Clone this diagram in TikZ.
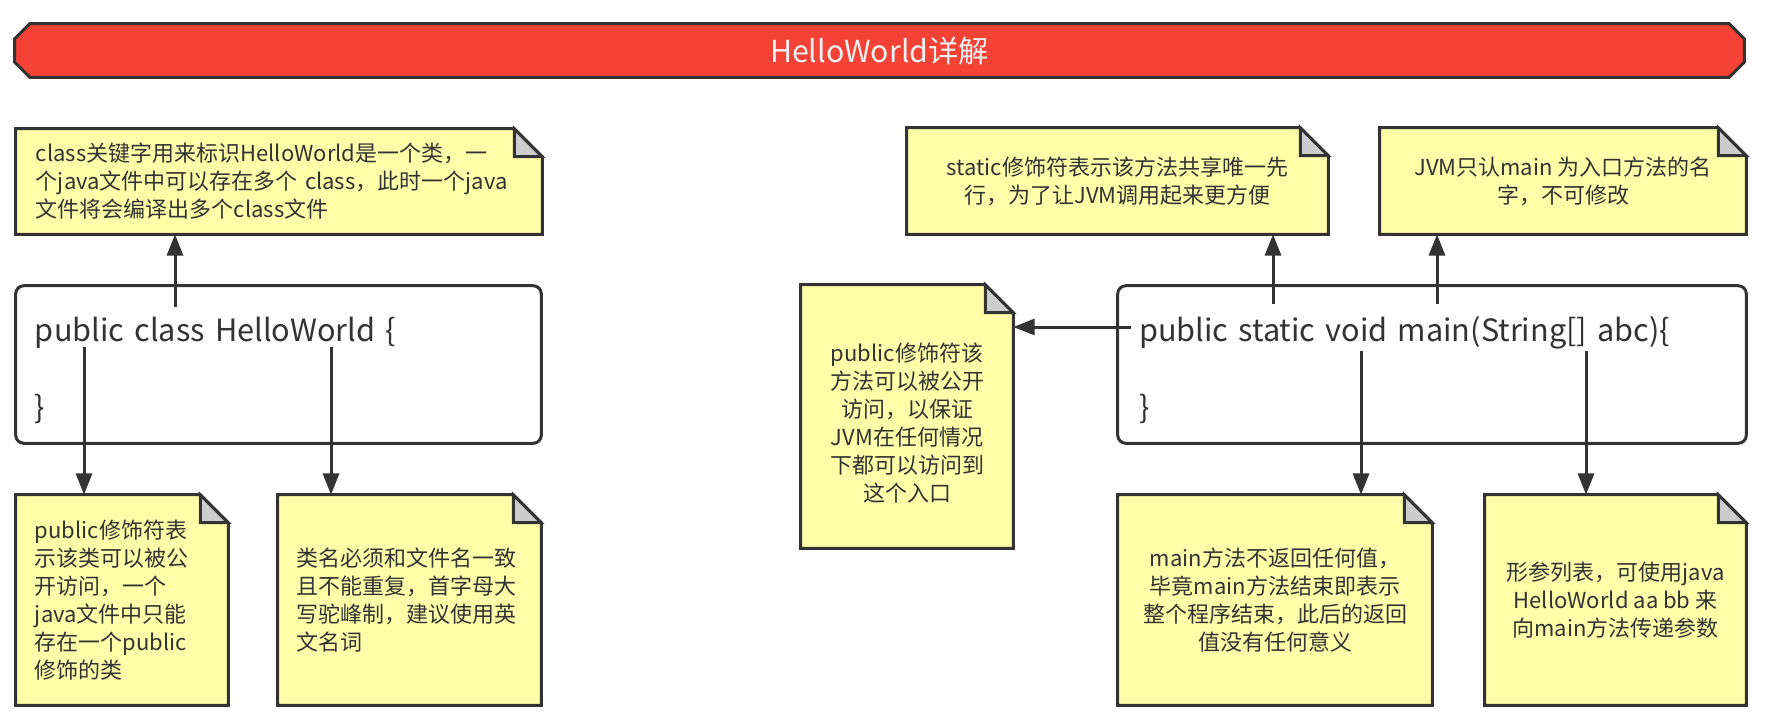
\documentclass[tikz,border=0pt]{standalone}
\usepackage{fontspec}
\setmainfont{Noto Sans CJK SC}
\usetikzlibrary{arrows.meta,backgrounds}
\definecolor{ink}{HTML}{333333}
\definecolor{notey}{HTML}{FFFFAA}
\definecolor{foldg}{HTML}{CCCCCC}
\definecolor{hred}{HTML}{F44336}
\definecolor{htext}{HTML}{F0F0F0}
\newcommand\notetxt{\fontsize{16.5pt}{21pt}\selectfont}
\newcommand\codetxt{\fontsize{23pt}{28.9pt}\selectfont}
\newcommand\hdrtxt{\fontsize{22.7pt}{26pt}\selectfont}
\begin{document}
\begin{tikzpicture}[x=0.75pt,y=-0.75pt,
  every node/.style={text=ink, inner sep=0pt},
  cnote/.style 2 args={minimum width=#1, minimum height=#2, align=center, font=\notetxt},
  lnote/.style n args={4}{minimum width=#1, minimum height=#2, inner xsep=#3, text width=#4, align=left, font=\notetxt},
  codebox/.style n args={4}{minimum width=#1, minimum height=#2, inner xsep=#3, text width=#4, align=left, font=\codetxt},
  outline/.style={draw=ink, line width=2.25pt, line join=miter},
  arr/.style={draw=ink, line width=2.25pt, -{Triangle[length=16pt,width=12pt]}}
]
\useasboundingbox (0,0) rectangle (1768,725);

% header
\node[minimum width=1296.75pt, minimum height=39.75pt, font=\hdrtxt, text=htext] (hdr) at (879.5,50.5) {HelloWorld详解};

% left side
\node[lnote={394.5pt}{78.75pt}{15pt}{364.5pt}] (n1) at (279,181.5)
  {class关键字用来标识HelloWorld是一个类，一\\个java文件中可以存在多个 class，此时一个java\\文件将会编译出多个class文件};
\node[codebox={393.75pt}{117.75pt}{14.25pt}{365.25pt}] (b1) at (278.5,364.5)
  {\rule{0pt}{27.5pt}public class HelloWorld \{\\ \strut\\ \}};
\node[lnote={159pt}{157.5pt}{14.25pt}{130.5pt}] (bl1) at (122,600)
  {public修饰符表\\示该类可以被公\\开访问，一个\\java文件中只能\\存在一个public\\修饰的类};
\node[lnote={197.25pt}{157.5pt}{13.5pt}{170.25pt}] (bl2) at (409.5,600)
  {类名必须和文件名一致\\且不能重复，首字母大\\写驼峰制，建议使用英\\文名词};

% right side
\node[cnote={315.75pt}{79.5pt}] (ns) at (1117.5,181)
  {static修饰符表示该方法共享唯一先\\行，为了让JVM调用起来更方便};
\node[cnote={274.5pt}{79.5pt}] (nj) at (1563,181)
  {JVM只认main 为入口方法的名\\字，不可修改};
\node[cnote={159pt}{197.25pt}] (nm) at (907,416.5)
  {\rule{0pt}{23.5pt}public修饰符该\\方法可以被公开\\访问，以保证\\JVM在任何情况\\下都可以访问到\\这个入口};
\node[codebox={471pt}{117.75pt}{15.75pt}{439.5pt}] (b2) at (1432,364.5)
  {\rule{0pt}{27.5pt}public static void main(String[] abc)\{\\ \strut\\ \}};
\node[cnote={235.5pt}{157.5pt}] (nmain) at (1275,600)
  {main方法不返回任何值，\\毕竟main方法结束即表示\\整个程序结束，此后的返回\\值没有任何意义};
\node[cnote={195.75pt}{157.5pt}] (nargs) at (1615.5,600)
  {形参列表，可使用java\\HelloWorld aa bb 来\\向main方法传递参数};

\begin{scope}[on background layer]
  \path[outline, fill=hred]
    ([xshift=11.25pt]hdr.north west) -- ([xshift=-11.25pt]hdr.north east)
    -- ([yshift=-11.25pt]hdr.north east) -- ([yshift=11.25pt]hdr.south east)
    -- ([xshift=-11.25pt]hdr.south east) -- ([xshift=11.25pt]hdr.south west)
    -- ([yshift=11.25pt]hdr.south west) -- ([yshift=-11.25pt]hdr.north west) -- cycle;
  \foreach \nd in {n1,bl1,bl2,ns,nj,nm,nmain,nargs}{
    \path[outline, fill=notey]
      (\nd.south west) -- (\nd.north west) -- ([xshift=-21pt]\nd.north east)
      -- ([yshift=-21pt]\nd.north east) -- (\nd.south east) -- cycle;
    \path[outline, fill=foldg]
      ([xshift=-21pt]\nd.north east) -- ([xshift=-21pt,yshift=-21pt]\nd.north east)
      -- ([yshift=-21pt]\nd.north east) -- cycle;
  }
  \foreach \nd in {b1,b2}{
    \path[outline, fill=white, rounded corners=6pt] (\nd.south west) rectangle (\nd.north east);
  }
\end{scope}

% connectors
\coordinate (a1) at (175,307);
\coordinate (a2) at (84,347);
\coordinate (a3) at (331,347);
\coordinate (a4) at (1273,304);
\coordinate (a5) at (1437,304);
\coordinate (a6) at (1131,327);
\coordinate (a7) at (1361,351);
\coordinate (a8) at (1586,351);
\draw[arr] (a1) -- (a1 |- n1.south);
\draw[arr] (a2) -- (a2 |- bl1.north);
\draw[arr] (a3) -- (a3 |- bl2.north);
\draw[arr] (a4) -- (a4 |- ns.south);
\draw[arr] (a5) -- (a5 |- nj.south);
\draw[arr] (a6) -- (a6 -| nm.east);
\draw[arr] (a7) -- (a7 |- nmain.north);
\draw[arr] (a8) -- (a8 |- nargs.north);
\end{tikzpicture}
\end{document}
